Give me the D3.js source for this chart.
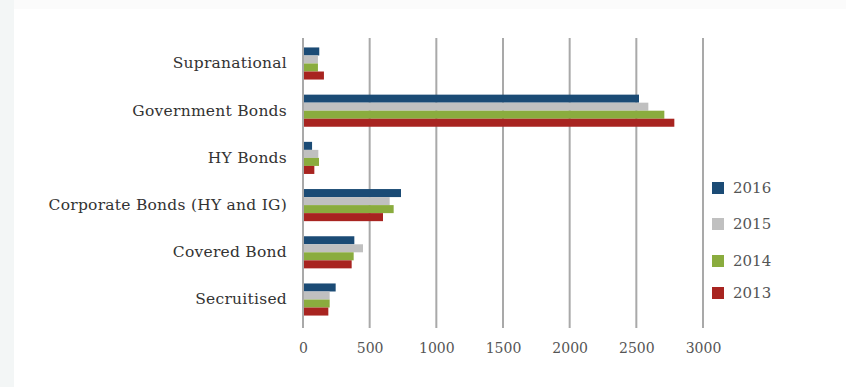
<!DOCTYPE html>
<html>
<head>
<meta charset="utf-8">
<script src="https://cdn.jsdelivr.net/npm/d3@7"></script>
<style>
  body { margin: 0; background: #fff; }
  svg { display: block; }
</style>
</head>
<body>
<div class="chart"></div>
<script>
var categories = ['Supranational', 'Government Bonds', 'HY Bonds', 'Corporate Bonds (HY and IG)', 'Covered Bond', 'Secruitised'];
var years = ['2016', '2015', '2014', '2013'];
var v2016 = [122, 2520, 68, 735, 385, 245];
var v2015 = [112, 2590, 115, 650, 450, 200];
var v2014 = [112, 2710, 120, 680, 380, 200];
var v2013 = [157, 2785, 85, 600, 365, 190];
var xTicks = [0, 500, 1000, 1500, 2000, 2500, 3000];
var colors = ['#1b4b75', '#c0c0c0', '#8aac3e', '#a82420'];

var series = [v2016, v2015, v2014, v2013];

var W = 846, H = 387;
var margin = { top: 38, right: 143, bottom: 61, left: 303 };

var svg = d3.select('.chart').append('svg')
    .attr('width', W)
    .attr('height', H);

// faint frame on the left and top like the scanned page
svg.append('rect').attr('x', 0).attr('y', 0).attr('width', 14).attr('height', H).attr('fill', '#f3f6f6');
svg.append('rect').attr('x', 14).attr('y', 0).attr('width', W - 14).attr('height', 9).attr('fill', '#fbfbfb');

var x = d3.scaleLinear().domain([0, 3000]).range([0, 400]);
var y = d3.scaleBand().domain(categories).range([0, 287]).paddingInner(0.32).paddingOuter(0.2);
var yInner = d3.scaleBand().domain(years).range([0, y.bandwidth()]);

var g = svg.append('g')
    .attr('transform', 'translate(' + margin.left + ',' + margin.top + ')');

// grid lines
g.selectAll('line.grid')
    .data(xTicks)
    .enter().append('line')
    .attr('class', 'grid')
    .attr('x1', function(d) { return x(d); })
    .attr('x2', function(d) { return x(d); })
    .attr('y1', 0)
    .attr('y2', 290)
    .attr('stroke', '#a9a9a9')
    .attr('stroke-width', 2);

// x tick labels
var xAxis = d3.axisBottom(x).tickValues(xTicks).tickFormat(d3.format('d')).tickSize(0).tickPadding(15);
g.append('g')
    .attr('transform', 'translate(0,' + 290 + ')')
    .call(xAxis)
    .call(function(s) { s.select('.domain').remove(); })
    .selectAll('text')
    .attr('font-family', 'DejaVu Serif, serif')
    .attr('font-size', 14)
    .attr('fill', '#555');

// y labels
var yAxis = d3.axisLeft(y).tickSize(0).tickPadding(16);
g.append('g')
    .call(yAxis)
    .call(function(s) { s.select('.domain').remove(); })
    .selectAll('text')
    .attr('font-family', 'DejaVu Serif, serif')
    .attr('font-size', 15.5)
    .attr('letter-spacing', 0.25)
    .attr('fill', '#333');

// bars
var groups = g.selectAll('g.cat')
    .data(categories)
    .enter().append('g')
    .attr('class', 'cat')
    .attr('transform', function(d) { return 'translate(0,' + y(d) + ')'; });

groups.selectAll('rect')
    .data(function(d, i) { return years.map(function(yr, j) { return { year: yr, value: series[j][i], c: colors[j] }; }); })
    .enter().append('rect')
    .attr('x', 1)
    .attr('y', function(d) { return yInner(d.year); })
    .attr('height', yInner.bandwidth())
    .attr('width', function(d) { return x(d.value) - 1; })
    .attr('fill', function(d) { return d.c; });

// legend
var legend = svg.append('g').attr('transform', 'translate(712,182)');
var ly = [0, 36, 73, 105];
var items = legend.selectAll('g')
    .data(years)
    .enter().append('g')
    .attr('transform', function(d, i) { return 'translate(0,' + ly[i] + ')'; });
items.append('rect')
    .attr('width', 12).attr('height', 12)
    .attr('fill', function(d, i) { return colors[i]; });
items.append('text')
    .attr('x', 21).attr('y', 11)
    .attr('font-family', 'DejaVu Serif, serif')
    .attr('font-size', 15)
    .attr('fill', '#555')
    .text(function(d) { return d; });
</script>
</body>
</html>
